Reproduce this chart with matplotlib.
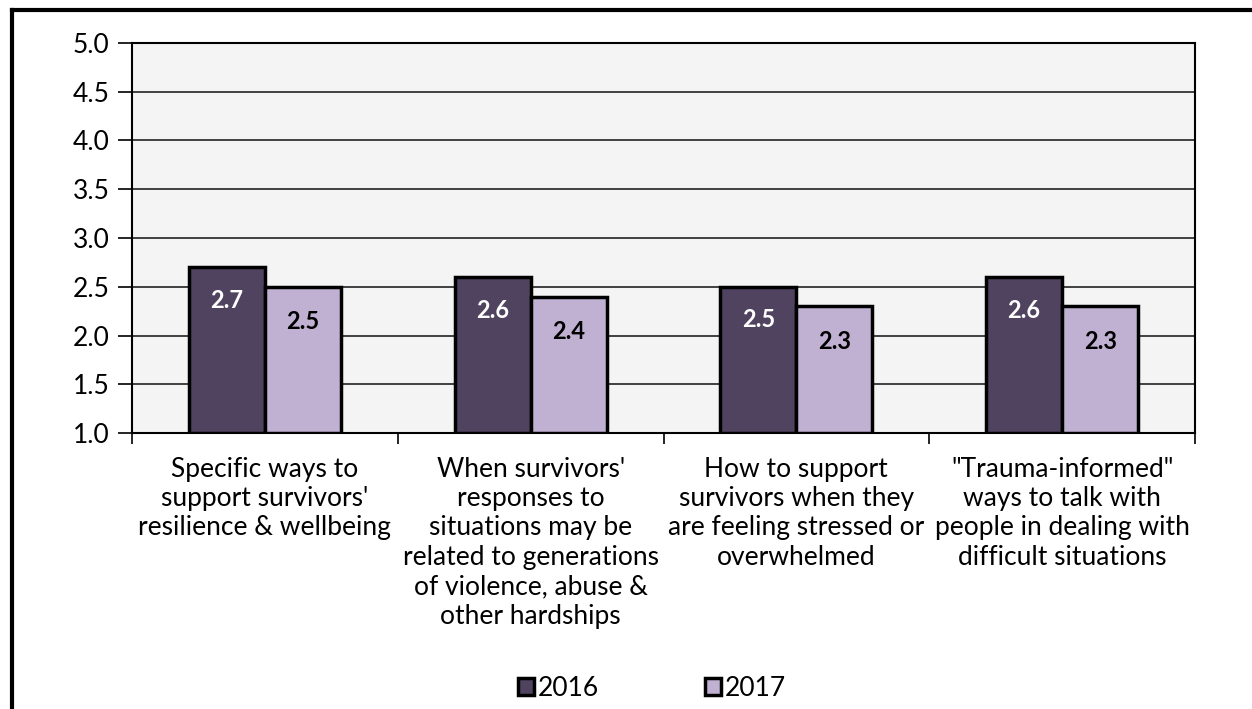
import matplotlib.pyplot as plt
import numpy as np
from matplotlib.lines import Line2D

categories = ["Specific ways to\nsupport survivors'\nresilience & wellbeing",
              "When survivors'\nresponses to\nsituations may be\nrelated to generations\nof violence, abuse &\nother hardships",
              "How to support\nsurvivors when they\nare feeling stressed or\noverwhelmed",
              "\"Trauma-informed\"\nways to talk with\npeople in dealing with\ndifficult situations"]
series_names = ['2016', '2017']
vals_2016 = [2.7, 2.6, 2.5, 2.6]
vals_2017 = [2.5, 2.4, 2.3, 2.3]
yticks = [1.0, 1.5, 2.0, 2.5, 3.0, 3.5, 4.0, 4.5, 5.0]

plt.rcParams['font.family'] = ['Lato', 'DejaVu Sans']
fs = 19

fig = plt.figure(figsize=(12.52, 7.09), dpi=100)
ax = fig.add_axes([132/1252, 1-433/709, (1195-132)/1252, 390/709])
ax.set_facecolor('#f4f4f4')

x = np.arange(len(categories))
w = 0.286
c16 = '#504360'
c17 = '#c0b1d3'
b1 = ax.bar(x - w/2, [v - 1 for v in vals_2016], w, bottom=1, color=c16,
            edgecolor='black', linewidth=2.5, label=series_names[0], zorder=3)
b2 = ax.bar(x + w/2, [v - 1 for v in vals_2017], w, bottom=1, color=c17,
            edgecolor='black', linewidth=2.5, label=series_names[1], zorder=3)

# value labels sit inside the bars, near the top
for i in range(len(categories)):
    ax.text(x[i] - w/2, vals_2016[i] - 0.34, f'{vals_2016[i]:.1f}', ha='center',
            va='center', color='white', fontsize=17, fontweight='bold', zorder=4)
    ax.text(x[i] + w/2, vals_2017[i] - 0.36, f'{vals_2017[i]:.1f}', ha='center',
            va='center', color='black', fontsize=17, fontweight='bold', zorder=4)

ax.set_ylim(1, 5)
ax.set_xlim(-0.5, len(categories) - 0.5)
ax.set_yticks(yticks)
ax.set_yticklabels([f'{t:.1f}' for t in yticks], fontsize=fs)
ax.yaxis.grid(True, color='#222222', linewidth=1.2, zorder=0)
ax.set_axisbelow(True)

ax.set_xticks(np.arange(len(categories) + 1) - 0.5)
ax.set_xticklabels([])
ax.set_xticks(x, minor=True)
ax.set_xticklabels(categories, minor=True, fontsize=fs, linespacing=1.22)
ax.tick_params(axis='x', which='minor', length=0, pad=17)
ax.tick_params(axis='x', which='major', length=8, width=1.2, direction='out')
ax.tick_params(axis='y', length=10, width=1.2, pad=6)
for s in ax.spines.values():
    s.set_linewidth(1.5)
    s.set_color('black')

fig.legend(handles=[b1, b2], labels=series_names, loc='center',
           bbox_to_anchor=(652/1252, 1 - 688/709), ncol=2, frameon=False,
           fontsize=fs, handlelength=0.6, handleheight=0.6, handletextpad=0.15,
           columnspacing=4.0)

fig.add_artist(Line2D([12/1252, 12/1252], [0, 1 - 10/709], color='black',
                      linewidth=3, transform=fig.transFigure))
fig.add_artist(Line2D([12/1252, 1], [1 - 10/709, 1 - 10/709], color='black',
                      linewidth=3, transform=fig.transFigure))

fig.savefig('out.png', dpi=100)
